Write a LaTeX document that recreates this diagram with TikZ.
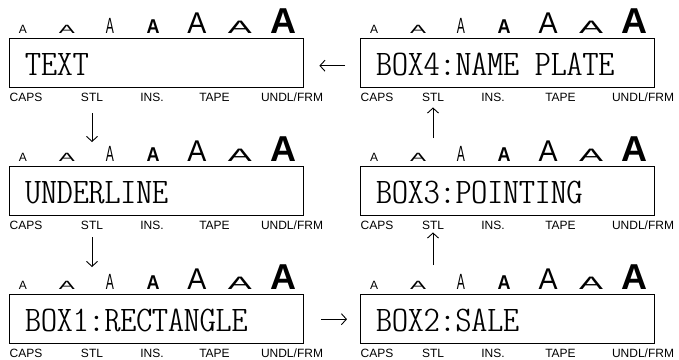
\documentclass[tikz,border=0pt]{standalone}
\usepackage{fontspec}
\usepackage{graphicx}
\setmainfont{Liberation Sans}
\usetikzlibrary{arrows.meta}

% one display glyph: size, horizontal stretch, series
\newcommand{\dispA}[3]{\scalebox{#2}[1]{\fontsize{#1}{#1}#3\selectfont A}}
% the dot-matrix line of the display
\newcommand{\lcdline}[1]{\scalebox{1.26}[1]{#1}}

\tikzset{
  lcdbox/.style={draw, line width=1.4pt, minimum width=294pt, minimum height=49pt, anchor=north west, inner sep=0pt},
  lcdtext/.style={anchor=west, inner sep=0pt, font=\fontsize{36}{36}\ttfamily\fontseries{lc}\selectfont},
  keylabel/.style={inner sep=0pt, font=\fontsize{12}{12}\selectfont},
  glyph/.style={anchor=base, inner sep=0pt},
  flow/.style={-{Straight Barb[length=5pt,width=11pt]}, line width=0.9pt}
}

% name, left x, top y, display text, x of STL
\newcommand{\lcdpanel}[5]{%
  \node[glyph] (#1-a1) at (#2+14,#3-5) {\dispA{12}{1}{}};
  \node[glyph] (#1-a2) at (#2+58,#3-5) {\dispA{12}{2}{}};
  \node[glyph] (#1-a3) at (#2+101,#3-5) {\dispA{22}{0.55}{}};
  \node[glyph] (#1-a4) at (#2+144,#3-5) {\dispA{20}{0.9}{\bfseries}};
  \node[glyph] (#1-a5) at (#2+188,#3-5) {\dispA{30}{0.95}{}};
  \node[glyph] (#1-a6) at (#2+231,#3-5) {\dispA{18}{2}{}};
  \node[glyph] (#1-a7) at (#2+274,#3-5) {\dispA{36}{1}{\bfseries}};
  \node[lcdbox] (#1) at (#2,#3) {};
  \node[lcdtext] (#1-txt) at ([xshift=16pt,yshift=-1.5pt]#1.west) {\lcdline{#4}};
  \node[keylabel] (#1-caps) at (#2+17,#3+59) {CAPS};
  \node[keylabel] (#1-stl) at (#2+#5,#3+59) {STL};
  \node[keylabel] (#1-ins) at (#2+#5+60,#3+59) {INS.};
  \node[keylabel] (#1-tape) at (#2+#5/2+164,#3+59) {TAPE};
  \node[keylabel] (#1-undl) at (#2+283,#3+59) {UNDL/FRM};
}

\begin{document}
\begin{tikzpicture}[x=1pt, y=-1pt]
  \useasboundingbox (0,0) rectangle (679,359);

  % left column
  \lcdpanel{text}{9}{38}{TEXT}{83}
  \lcdpanel{underline}{9}{166}{UNDERLINE}{83}
  \lcdpanel{boxone}{9}{294}{BOX1:RECTANGLE}{83}
  % right column
  \lcdpanel{boxfour}{360}{38}{BOX4:NAME PLATE}{73}
  \lcdpanel{boxthree}{360}{166}{BOX3:POINTING}{73}
  \lcdpanel{boxtwo}{360}{294}{BOX2:SALE}{73}

  % order of the steps
  \draw[flow, shorten <=12pt, shorten >=24pt] (text-stl.south) -- (underline.north -| text-stl.south);
  \draw[flow, shorten <=8pt, shorten >=27pt] (underline-stl.south) -- (boxone.north -| underline-stl.south);
  \draw[flow, shorten <=17pt, shorten >=13pt] (boxone.east) -- (boxtwo.west);
  \draw[flow, shorten <=29pt, shorten >=3pt] (boxtwo.north -| boxthree-stl.south) -- (boxthree-stl.south);
  \draw[flow, shorten <=28pt, shorten >=6pt] (boxthree.north -| boxfour-stl.south) -- (boxfour-stl.south);
  \draw[flow, shorten <=15pt, shorten >=15pt] ([yshift=-2.5pt]boxfour.west) -- ([yshift=-2.5pt]text.east);
\end{tikzpicture}
\end{document}
